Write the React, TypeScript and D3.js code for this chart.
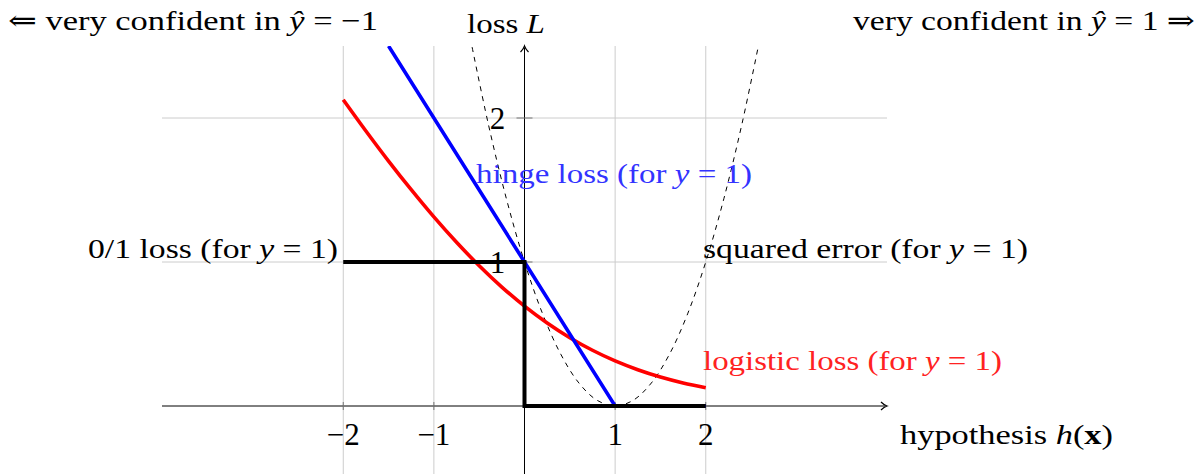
// loss functions chart, drawn with d3 into an svg ref
import React, { useRef, useEffect } from 'react';
import * as d3 from 'd3';

// tick values
const xTicks = [-2, -1, 1, 2];
const yTicks = [1, 2];

// 0/1 loss
const zeroOneX = [-2, 0, 0, 2];
const zeroOneL = [1, 1, 0, 0];

// hinge loss
const hingeX = [-1.5, 1, 2];
const hingeL = [2.5, 0, 0];

// logistic loss
const logisticX = [-2, -1.75, -1.5, -1.25, -1, -0.75, -0.5, -0.25, 0, 0.25, 0.5, 0.75, 1, 1.25, 1.5, 1.75, 2];
const logisticL = [2.127, 1.91, 1.701, 1.502, 1.313, 1.137, 0.974, 0.826, 0.693, 0.576, 0.474, 0.387, 0.313, 0.252, 0.201, 0.16, 0.127];

// squared error
const squaredX = [-0.6, -0.4, -0.2, 0, 0.2, 0.4, 0.6, 0.8, 1, 1.2, 1.4, 1.6, 1.8, 2, 2.2, 2.4, 2.6];
const squaredL = [2.56, 1.96, 1.44, 1, 0.64, 0.36, 0.16, 0.04, 0, 0.04, 0.16, 0.36, 0.64, 1, 1.44, 1.96, 2.56];

const FONT = '"Liberation Serif", "DejaVu Serif", serif';

function LossChart() {
  const ref = useRef<SVGSVGElement>(null);
  const width = 1202;
  const height = 474;

  useEffect(() => {
    const svg = d3.select(ref.current);
    svg.selectAll('*').remove();

    const x = d3.scaleLinear().domain([-4, 4]).range([162, 887]);
    const y = d3.scaleLinear().domain([-0.5, 2.5]).range([478, 46]);

    svg.append('defs').append('clipPath').attr('id', 'plotclip')
      .append('rect')
      .attr('x', x(-4)).attr('y', y(2.5))
      .attr('width', x(4) - x(-4)).attr('height', y(-0.5) - y(2.5));

    // grid
    const grid = svg.append('g').attr('stroke', '#cccccc').attr('stroke-width', 1);
    grid.selectAll('.hgrid').data(yTicks).enter().append('line')
      .attr('x1', x(-4)).attr('x2', x(4))
      .attr('y1', d => y(d)).attr('y2', d => y(d));
    grid.selectAll('.vgrid').data(xTicks).enter().append('line')
      .attr('x1', d => x(d)).attr('x2', d => x(d))
      .attr('y1', y(2.5)).attr('y2', y(-0.5));

    // axes
    const axes = svg.append('g').attr('stroke', '#000').attr('stroke-width', 1);
    axes.append('line').attr('x1', x(-4)).attr('x2', x(4) - 2).attr('y1', y(0)).attr('y2', y(0));
    axes.append('line').attr('x1', x(0)).attr('x2', x(0)).attr('y1', y(-0.5)).attr('y2', y(2.5) + 2);
    // arrow heads
    const ax = x(4), ay = y(0);
    svg.append('path')
      .attr('d', `M${ax - 6},${ay - 4} Q${ax - 3},${ay - 1} ${ax},${ay} Q${ax - 3},${ay + 1} ${ax - 6},${ay + 4}`)
      .attr('fill', 'none').attr('stroke', '#000').attr('stroke-width', 1.2);
    const bx = x(0), by = y(2.5);
    svg.append('path')
      .attr('d', `M${bx - 4},${by + 6} Q${bx - 1},${by + 3} ${bx},${by} Q${bx + 1},${by + 3} ${bx + 4},${by + 6}`)
      .attr('fill', 'none').attr('stroke', '#000').attr('stroke-width', 1.2);
    // tick marks
    const tk = svg.append('g').attr('stroke', '#777').attr('stroke-width', 1);
    tk.selectAll('.xt').data(xTicks).enter().append('line')
      .attr('x1', d => x(d)).attr('x2', d => x(d))
      .attr('y1', y(0) - 4).attr('y2', y(0) + 4);
    tk.selectAll('.yt').data(yTicks).enter().append('line')
      .attr('x1', x(0) - 8).attr('x2', x(0) + 8)
      .attr('y1', d => y(d)).attr('y2', d => y(d));

    const plot = svg.append('g').attr('clip-path', 'url(#plotclip)');
    const line = (xs: number[], ls: number[], curve: d3.CurveFactory) =>
      d3.line<number>().x(i => x(xs[i])).y(i => y(ls[i])).curve(curve)(d3.range(xs.length));

    plot.append('path').attr('d', line(squaredX, squaredL, d3.curveCatmullRom))
      .attr('fill', 'none').attr('stroke', '#000').attr('stroke-width', 1)
      .attr('stroke-dasharray', '5,5');
    plot.append('path').attr('d', line(logisticX, logisticL, d3.curveCatmullRom))
      .attr('fill', 'none').attr('stroke', 'red').attr('stroke-width', 3.6);
    plot.append('path').attr('d', line(hingeX, hingeL, d3.curveLinear))
      .attr('fill', 'none').attr('stroke', 'blue').attr('stroke-width', 3.6);
    plot.append('path').attr('d', line(zeroOneX, zeroOneL, d3.curveLinear))
      .attr('fill', 'none').attr('stroke', '#000').attr('stroke-width', 4)
      .attr('stroke-linejoin', 'miter');

    // tick labels
    const tl = svg.append('g').attr('font-family', FONT).attr('font-size', 31).attr('fill', '#000');
    tl.selectAll('.xl').data(xTicks).enter().append('text')
      .attr('x', d => x(d)).attr('y', 445).attr('text-anchor', 'middle')
      .text(d => (d < 0 ? '\u2212' + Math.abs(d) : String(d)));
    tl.selectAll('.yl').data(yTicks).enter().append('text')
      .attr('x', x(0) - 27).attr('y', d => y(d) + 11).attr('text-anchor', 'middle')
      .text(d => String(d));

    // labels: [x, y, anchor, color, width, parts]
    const labels: [number, number, string, string, number, [string, boolean][]][] = [
      [8, 30, 'start', '#000', 370, [['\u21D0 very confident in ', false], ['\u0177', true], [' = \u22121', false]]],
      [1195, 30, 'end', '#000', 342, [['very confident in ', false], ['\u0177', true], [' = 1 \u21D2', false]]],
      [467, 33, 'start', '#000', 78, [['loss ', false], ['L', true]]],
      [900, 444, 'start', '#000', 213, [['hypothesis ', false], ['h', true], ['(', false], ['x', false], [')', false]]],
      [338, 258, 'end', '#000', 250, [['0/1 loss (for ', false], ['y', true], [' = 1)', false]]],
      [476, 183, 'start', '#3333ff', 276, [['hinge loss (for ', false], ['y', true], [' = 1)', false]]],
      [703, 258, 'start', '#000', 325, [['squared error (for ', false], ['y', true], [' = 1)', false]]],
      [703, 370, 'start', '#ff2222', 299, [['logistic loss (for ', false], ['y', true], [' = 1)', false]]],
    ];
    labels.forEach(([lx, ly, anchor, color, w, parts]) => {
      const t = svg.append('text')
        .attr('x', lx).attr('y', ly).attr('text-anchor', anchor)
        .attr('font-family', FONT).attr('font-size', 28).attr('fill', color)
        .attr('textLength', w).attr('lengthAdjust', 'spacingAndGlyphs');
      parts.forEach(([s, it]) => {
        const sp = t.append('tspan').text(s);
        if (it) sp.attr('font-style', 'italic');
        if (s === 'x') sp.attr('font-weight', 'bold');
      });
    });
  }, []);

  return <svg ref={ref} width={width} height={height} style={{ position: 'absolute', left: 0, top: 0 }} />;
}

export default function App() {
  return <LossChart />;
}
